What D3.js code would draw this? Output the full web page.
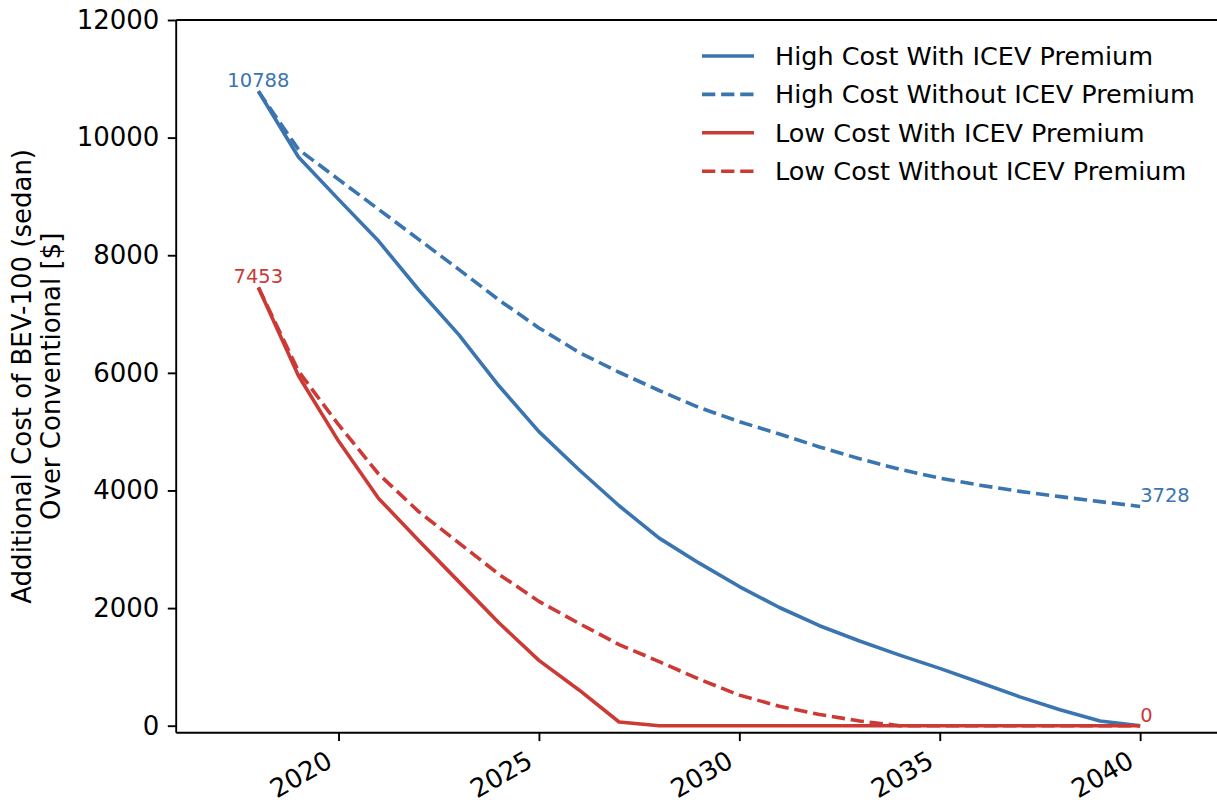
<!DOCTYPE html>
<html>
<head>
<meta charset="utf-8">
<script src="https://cdn.jsdelivr.net/npm/d3@7"></script>
<style>
  html, body { margin: 0; padding: 0; background: #fff; }
  svg { display: block; font-family: "DejaVu Sans", sans-serif; }
</style>
</head>
<body>
<svg id="chart" width="1217" height="803"></svg>
<script>
// Model years
const years = [2018, 2019, 2020, 2021, 2022, 2023, 2024, 2025, 2026, 2027, 2028, 2029,
               2030, 2031, 2032, 2033, 2034, 2035, 2036, 2037, 2038, 2039, 2040];

// Additional cost of a BEV-100 sedan over a conventional vehicle, $
const highCostWithPremium = [10788, 9670, 8950, 8240, 7413, 6650, 5780, 5000, 4352, 3740, 3190, 2764,
                             2366, 2010, 1700, 1440, 1200, 975, 735, 490, 270, 80, 0];
const highCostWithoutPremium = [10788, 9800, 9290, 8780, 8270, 7760, 7240, 6764, 6348, 6010, 5700, 5410,
                                5170, 4960, 4740, 4540, 4360, 4210, 4090, 3985, 3895, 3810, 3728];
const lowCostWithPremium = [7453, 5950, 4840, 3865, 3150, 2450, 1750, 1110, 608, 63, 0, 0,
                            0, 0, 0, 0, 0, 0, 0, 0, 0, 0, 0];
const lowCostWithoutPremium = [7453, 6030, 5118, 4280, 3640, 3110, 2575, 2114, 1740, 1380, 1090, 790,
                               520, 330, 190, 80, 0, 0, 0, 0, 0, 0, 0];

const seriesNames = ["High Cost With ICEV Premium", "High Cost Without ICEV Premium",
                     "Low Cost With ICEV Premium", "Low Cost Without ICEV Premium"];

const xTicks = [2020, 2025, 2030, 2035, 2040];
const yTicks = [0, 2000, 4000, 6000, 8000, 10000, 12000];
const yLabelLines = ["Additional Cost of BEV-100 (sedan)", "Over Conventional [$]"];

const BLUE = "#3a75b0";
const RED = "#cc3a35";

const series = [
  { name: seriesNames[0], values: highCostWithPremium, color: BLUE, dashed: false },
  { name: seriesNames[1], values: highCostWithoutPremium, color: BLUE, dashed: true },
  { name: seriesNames[2], values: lowCostWithPremium, color: RED, dashed: false },
  { name: seriesNames[3], values: lowCostWithoutPremium, color: RED, dashed: true }
];

const svg = d3.select("#chart");
const plot = { left: 176.2, top: 20, bottom: 732.7, right: 1220.3 };

const x = d3.scaleLinear().domain([2015.95, 2042]).range([plot.left, plot.right]);
const y = d3.scaleLinear().domain([-119, 12000]).range([plot.bottom, plot.top]);

const TICK_FONT = 26;
const LEGEND_FONT = 25.5;
const SMALL = 19.5;
const LW = 3.6;
const DASH = "13.3,5.8";

// Axes
const yAxis = d3.axisLeft(y).tickValues(yTicks).tickFormat(d3.format("d")).tickSize(8.4).tickPadding(8.4);
const xAxis = d3.axisBottom(x).tickValues(xTicks).tickFormat(d3.format("d")).tickSize(8.4).tickPadding(8.4);

const gy = svg.append("g").attr("transform", `translate(${plot.left},0)`).call(yAxis);
gy.select(".domain").remove();
gy.selectAll(".tick line").attr("stroke", "#000").attr("stroke-width", 1.9);
gy.selectAll(".tick text").attr("font-size", TICK_FONT).attr("fill", "#000")
  .attr("font-family", "DejaVu Sans");

const gx = svg.append("g").attr("transform", `translate(0,${plot.bottom})`).call(xAxis);
gx.select(".domain").remove();
gx.selectAll(".tick line").attr("stroke", "#000").attr("stroke-width", 1.9);
gx.selectAll(".tick text")
  .attr("font-size", TICK_FONT).attr("fill", "#000").attr("font-family", "DejaVu Sans")
  .attr("text-anchor", "end")
  .attr("dy", null)
  .attr("y", null)
  .attr("transform", "translate(-5,33) rotate(-30)");

// Spines (left, bottom, top; the right one falls beyond the canvas)
const spines = svg.append("g").attr("stroke", "#000").attr("stroke-width", 1.9).attr("fill", "none");
spines.append("line").attr("x1", plot.left).attr("x2", plot.left).attr("y1", plot.top).attr("y2", plot.bottom);
spines.append("line").attr("x1", plot.left).attr("x2", plot.right).attr("y1", plot.bottom).attr("y2", plot.bottom);
spines.append("line").attr("x1", plot.left).attr("x2", plot.right).attr("y1", plot.top).attr("y2", plot.top);

// Lines
const line = d3.line().x((d, i) => x(years[i])).y(d => y(d));
svg.append("g").selectAll("path").data(series).join("path")
  .attr("d", s => line(s.values))
  .attr("fill", "none")
  .attr("stroke", s => s.color)
  .attr("stroke-width", LW)
  .attr("stroke-linejoin", "round")
  .attr("stroke-dasharray", s => s.dashed ? DASH : null);

// Start and end value labels
const first = years[0], last = years[years.length - 1];
const notes = [
  { year: first, value: highCostWithPremium[0], color: BLUE, anchor: "middle" },
  { year: first, value: lowCostWithPremium[0], color: RED, anchor: "middle" },
  { year: last, value: highCostWithoutPremium[years.length - 1], color: BLUE, anchor: "start" },
  { year: last, value: lowCostWithPremium[years.length - 1], color: RED, anchor: "start" }
];
svg.append("g").selectAll("text").data(notes).join("text")
  .attr("x", d => x(d.year))
  .attr("y", d => y(d.value) - 4)
  .attr("text-anchor", d => d.anchor)
  .attr("font-size", SMALL)
  .attr("fill", d => d.color)
  .text(d => d3.format("d")(d.value));

// Y axis title
const yl = svg.append("g").attr("transform", `translate(0,${(plot.top + plot.bottom) / 2}) rotate(-90)`);
yl.selectAll("text").data(yLabelLines).join("text")
  .attr("x", 0)
  .attr("y", (d, i) => 31 + i * 28.5)
  .attr("text-anchor", "middle")
  .attr("font-size", TICK_FONT)
  .attr("fill", "#000")
  .text(d => d);

// Legend
const legend = svg.append("g").attr("transform", "translate(702,56)");
const rows = legend.selectAll("g").data(series).join("g")
  .attr("transform", (d, i) => `translate(0,${i * 38.4})`);
rows.append("line")
  .attr("x1", 0).attr("x2", 52).attr("y1", 0).attr("y2", 0)
  .attr("stroke", d => d.color).attr("stroke-width", LW)
  .attr("stroke-dasharray", d => d.dashed ? DASH : null);
rows.append("text")
  .attr("x", 73).attr("y", 0).attr("dy", "0.35em")
  .attr("font-size", LEGEND_FONT).attr("fill", "#000")
  .text(d => d.name);
</script>
</body>
</html>
